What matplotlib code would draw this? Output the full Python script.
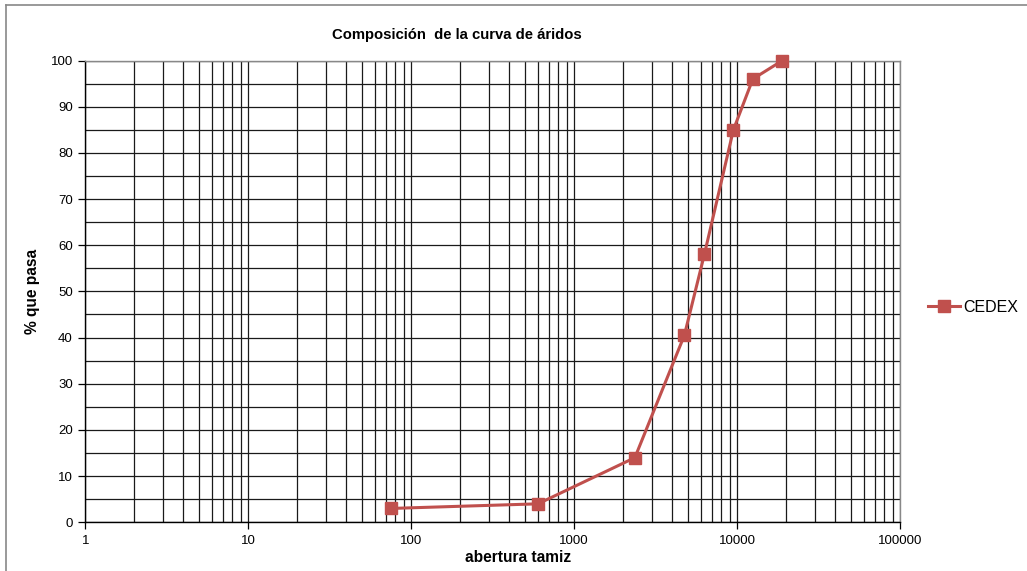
import numpy as np
import matplotlib.pyplot as plt
from matplotlib.lines import Line2D
from matplotlib.ticker import LogLocator, FixedLocator, NullFormatter

plt.rcParams['font.family'] = ['Liberation Sans', 'DejaVu Sans']

# data: sieve opening (microns) vs % passing
abertura = [75, 600, 2360, 4750, 6300, 9500, 12500, 19000]
pasa = [3, 4, 14, 40.5, 58, 85, 96, 100]
serie = 'CEDEX'
xticks = [1, 10, 100, 1000, 10000, 100000]
yticks = list(range(0, 101, 10))

W, H = 1027, 571
fig = plt.figure(figsize=(W / 100, H / 100), dpi=100)
ax = fig.add_axes([85.3 / W, 1 - 522.3 / H, (900 - 85.3) / W, (522.3 - 60.5) / H])

ax.plot(abertura, pasa, color='#C0504D', lw=2.2, marker='s', ms=8,
        mec='#C0504D', mfc='#C0504D', label=serie, zorder=5, clip_on=False)

ax.set_xscale('log')
ax.set_xlim(1, 100000)
ax.set_ylim(0, 100)
ax.set_xticks(xticks)
ax.set_xticklabels([str(t) for t in xticks])
ax.xaxis.set_minor_locator(LogLocator(base=10, subs=np.arange(2, 10)))
ax.xaxis.set_minor_formatter(NullFormatter())
ax.set_yticks(yticks)
ax.yaxis.set_minor_locator(FixedLocator(range(5, 100, 10)))

ax.grid(True, which='both', axis='both', color='#1a1a1a', lw=0.9)
ax.set_axisbelow(True)
ax.tick_params(which='major', direction='out', length=5, width=0.9,
               labelsize=9.5, color='black', pad=4)
ax.tick_params(which='minor', length=0)
ax.tick_params(axis='x', pad=4)

for s in ['left', 'bottom']:
    ax.spines[s].set_color('black')
    ax.spines[s].set_linewidth(1.0)
for s in ['top', 'right']:
    ax.spines[s].set_color('#888888')
    ax.spines[s].set_linewidth(1.0)

fig.text(457 / W, 1 - 35 / H, 'Composición  de la curva de áridos',
         ha='center', va='center', fontsize=10.7, fontweight='bold')
fig.text(518 / W, 1 - 557 / H, 'abertura tamiz',
         ha='center', va='center', fontsize=11.2, fontweight='bold')
fig.text(32 / W, 1 - 291 / H, '% que pasa', rotation=90,
         ha='center', va='center', fontsize=11.2, fontweight='bold')

fig.legend(loc='center left', bbox_to_anchor=(928 / W, 1 - 307 / H),
           frameon=False, fontsize=11.5, handlelength=2.0, handletextpad=0.2,
           borderaxespad=0, borderpad=0)

# outer chart frame (left and top visible)
fig.add_artist(Line2D([6 / W, 6 / W], [0, 1 - 5 / H], color='#888888', lw=1.2))
fig.add_artist(Line2D([6 / W, 1], [1 - 5 / H, 1 - 5 / H], color='#888888', lw=1.2))

fig.savefig('out.png', dpi=100)
